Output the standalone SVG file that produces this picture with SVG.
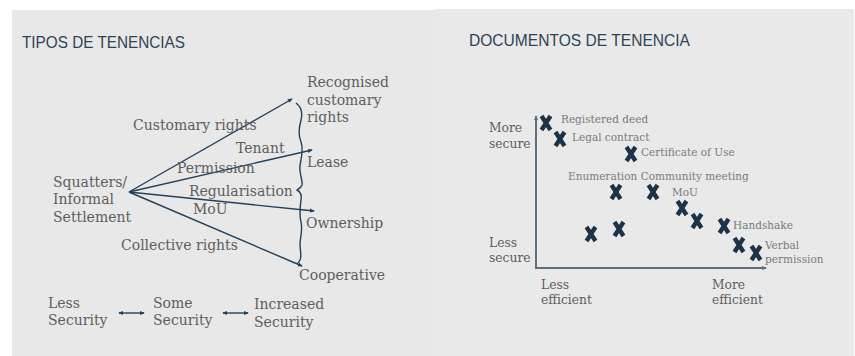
<svg xmlns="http://www.w3.org/2000/svg" width="855" height="356" viewBox="0 0 855 356">
<defs>
<style>
.t{font-family:"DejaVu Serif","Liberation Serif",serif;font-size:14px;fill:#5e5e5e}
.a{font-family:"DejaVu Serif","Liberation Serif",serif;font-size:12.3px;fill:#5e5e5e}
.s{font-family:"DejaVu Serif","Liberation Serif",serif;font-size:10.5px;fill:#7a7a7a}
.h{font-family:"Liberation Sans","Open Sans",sans-serif;font-size:17px;fill:#2f4356}
.ln{stroke:#23405a;stroke-width:1.4;fill:none}
.ax{stroke:#5f6f7f;stroke-width:2;fill:none}
.x{stroke:#1c3347;stroke-width:4.4;stroke-linecap:butt;fill:none}
</style>
<marker id="ah" viewBox="0 0 6 6" refX="5" refY="3" markerWidth="5" markerHeight="5" markerUnits="userSpaceOnUse" orient="auto-start-reverse"><path d="M0,0.5 L6,3 L0,5.5 z" fill="#23405a"/></marker>
<marker id="aa" viewBox="0 0 6 6" refX="5" refY="3" markerWidth="5" markerHeight="5" markerUnits="userSpaceOnUse" orient="auto"><path d="M0,0.5 L6,3 L0,5.5 z" fill="#5f6f7f"/></marker>
<g id="xm"><path class="x" d="M-4.5,-7 L4.5,7 M4.5,-7 L-4.5,7"/></g>
</defs>
<rect x="0" y="0" width="855" height="356" fill="#ffffff"/>
<rect x="12" y="10" width="423" height="346" fill="#e8e8e8"/>
<rect x="435" y="9" width="419" height="347" fill="#e9e9e9"/>

<text class="h" x="22" y="48" textLength="163" lengthAdjust="spacingAndGlyphs">TIPOS DE TENENCIAS</text>
<text class="h" x="469" y="46" textLength="221" lengthAdjust="spacingAndGlyphs">DOCUMENTOS DE TENENCIA</text>

<g id="connectors">
<line class="ln" x1="129" y1="192" x2="292" y2="99" marker-end="url(#ah)"/>
<line class="ln" x1="129" y1="192" x2="312" y2="150" marker-end="url(#ah)"/>
<line class="ln" x1="129" y1="192" x2="314" y2="211" marker-end="url(#ah)"/>
<line class="ln" x1="129" y1="192" x2="302" y2="266" marker-end="url(#ah)"/>
<path class="ln" d="M296,103 C300,106 303,112 301,120 C299,128 298,134 301,142 C304,150 301,158 300,166 C299,174 303,180 302,185 C301,188 298,189 297,190 C299,191 302,194 301,200 C300,208 299,214 301,222 C303,230 300,238 300,244 C300,251 302,256 300,260 C299,262 298,263 297,264"/>
<line class="ln" x1="119" y1="313" x2="144" y2="313" marker-start="url(#ah)" marker-end="url(#ah)"/>
<line class="ln" x1="223" y1="313" x2="248" y2="313" marker-start="url(#ah)" marker-end="url(#ah)"/>
<line class="ax" x1="536" y1="268" x2="536" y2="116" marker-end="url(#aa)"/>
<line class="ax" x1="535" y1="268" x2="766" y2="268" marker-end="url(#aa)"/>
</g>

<g id="squatters"><text class="t" x="53" y="187">Squatters/</text><text class="t" x="53" y="204">Informal</text><text class="t" x="53" y="222">Settlement</text></g>
<g id="recognised"><text class="t" x="307" y="87">Recognised</text><text class="t" x="307" y="104.5">customary</text><text class="t" x="307" y="122">rights</text></g>
<g id="lease"><text class="t" x="307" y="167">Lease</text></g>
<g id="ownership"><text class="t" x="306" y="228">Ownership</text></g>
<g id="cooperative"><text class="t" x="299" y="280">Cooperative</text></g>
<g id="edge-labels">
<text class="t" x="133" y="130">Customary rights</text>
<text class="t" x="236" y="153">Tenant</text>
<text class="t" x="177" y="173">Permission</text>
<text class="t" x="189" y="196">Regularisation</text>
<text class="t" x="193" y="214">MoU</text>
<text class="t" x="121" y="250">Collective rights</text>
</g>
<g id="less-security"><text class="t" x="48" y="308">Less</text><text class="t" x="48" y="325">Security</text></g>
<g id="some-security"><text class="t" x="153" y="308">Some</text><text class="t" x="153" y="325">Security</text></g>
<g id="increased-security"><text class="t" x="254" y="309">Increased</text><text class="t" x="254" y="327">Security</text></g>

<g id="axis-labels">
<text class="a" x="489" y="132">More</text><text class="a" x="489" y="148">secure</text>
<text class="a" x="489" y="247">Less</text><text class="a" x="489" y="262">secure</text>
<text class="a" x="541" y="289">Less</text><text class="a" x="541" y="304">efficient</text>
<text class="a" x="712" y="289">More</text><text class="a" x="712" y="304">efficient</text>
</g>

<g id="points">
<use href="#xm" x="546" y="123"/>
<use href="#xm" x="560" y="139"/>
<use href="#xm" x="631" y="154"/>
<use href="#xm" x="616" y="192"/>
<use href="#xm" x="653" y="192"/>
<use href="#xm" x="682" y="208"/>
<use href="#xm" x="697" y="221"/>
<use href="#xm" x="724" y="226"/>
<use href="#xm" x="739" y="245"/>
<use href="#xm" x="756" y="253"/>
<use href="#xm" x="591" y="234"/>
<use href="#xm" x="619" y="229"/>
</g>
<g id="point-labels">
<text class="s" x="561" y="123">Registered deed</text>
<text class="s" x="572" y="141">Legal contract</text>
<text class="s" x="641" y="156">Certificate of Use</text>
<text class="s" x="568" y="180">Enumeration Community meeting</text>
<text class="s" x="672" y="196">MoU</text>
<text class="s" x="733" y="229">Handshake</text>
<text class="s" x="765" y="249">Verbal</text>
<text class="s" x="765" y="263">permission</text>
</g>
</svg>
